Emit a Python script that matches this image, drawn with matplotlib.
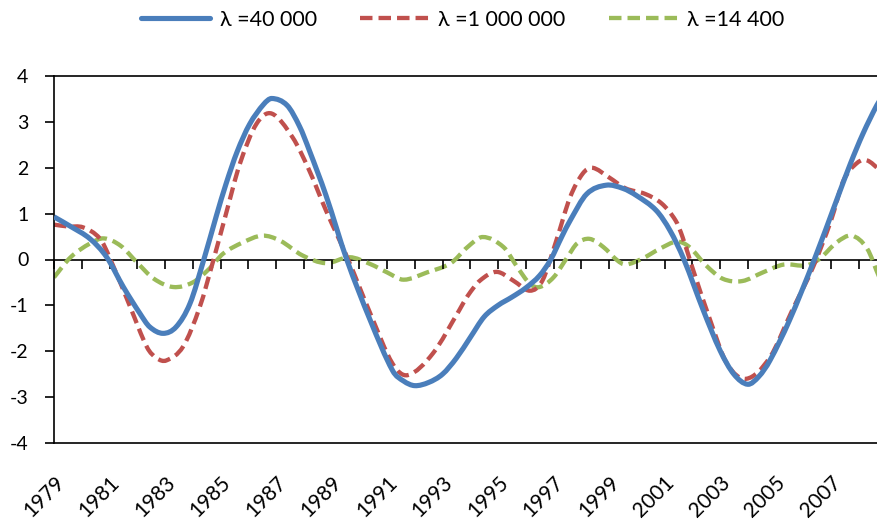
import numpy as np
import matplotlib
matplotlib.use('Agg')
import matplotlib.pyplot as plt
import matplotlib.transforms as mtransforms
from matplotlib.path import Path
from matplotlib.patches import PathPatch
from matplotlib.lines import Line2D

plt.rcParams['font.family'] = ['Lato', 'DejaVu Sans']

# values (year, cycle component)
t_40k = [1979.0, 1979.6, 1980.3, 1980.9, 1981.5, 1982.1, 1982.45, 1982.93, 1983.4, 1983.9,
         1984.4, 1984.85, 1985.2, 1985.6, 1986.05, 1986.55, 1986.85, 1987.4, 1987.85, 1988.2,
         1988.8, 1989.55, 1990.4, 1991.2, 1991.6, 1992.0, 1992.5, 1993.0, 1993.5, 1994.0,
         1994.5, 1995.0, 1995.5, 1996.0, 1996.5, 1996.9, 1997.3, 1997.6, 1998.2, 1998.9,
         1999.5, 2000.0, 2000.7, 2001.2, 2001.7, 2002.4, 2003.0, 2003.5, 2004.0, 2004.4,
         2004.8, 2005.5, 2006.4, 2007.2, 2007.7, 2008.15, 2008.65, 2008.9]
v_40k = [0.93, 0.72, 0.45, 0.05, -0.6, -1.18, -1.47, -1.61, -1.47, -0.96,
         0.0, 0.95, 1.65, 2.35, 2.95, 3.38, 3.51, 3.36, 2.9, 2.38,
         1.4, 0.0, -1.33, -2.42, -2.65, -2.75, -2.68, -2.5, -2.15, -1.7,
         -1.25, -1.0, -0.82, -0.62, -0.35, 0.0, 0.5, 0.85, 1.43, 1.62,
         1.55, 1.39, 1.07, 0.63, 0.0, -1.11, -1.98, -2.5, -2.72, -2.55,
         -2.2, -1.33, 0.0, 1.29, 2.09, 2.74, 3.36, 3.6]

t_1m = [1979.0, 1979.5, 1980.05, 1980.65, 1981.0, 1981.75, 1982.35, 1982.7, 1983.05, 1983.65,
        1984.25, 1984.75, 1985.2, 1985.7, 1986.3, 1986.85, 1987.6, 1988.2, 1988.8, 1989.6,
        1990.4, 1991.2, 1991.75, 1992.65, 1993.6, 1993.9, 1994.35, 1994.95, 1995.55, 1996.15,
        1996.6, 1997.1, 1997.6, 1998.05, 1998.4, 1999.0, 1999.6, 2000.3, 2000.9, 2001.4,
        2001.65, 2002.0, 2002.65, 2003.25, 2003.95, 2004.8, 2005.6, 2006.35, 2007.0, 2007.45,
        2007.95, 2008.3, 2008.75, 2008.9]
v_1m = [0.76, 0.72, 0.7, 0.46, 0.05, -1.04, -1.91, -2.15, -2.2, -1.9,
        -1.04, 0.0, 1.0, 2.09, 2.96, 3.18, 2.66, 1.94, 1.07, 0.0,
        -1.18, -2.27, -2.52, -2.05, -1.11, -0.8, -0.46, -0.27, -0.46, -0.68,
        -0.46, 0.41, 1.36, 1.87, 2.0, 1.79, 1.55, 1.43, 1.22, 0.85,
        0.49, -0.17, -1.33, -2.27, -2.6, -2.13, -1.11, -0.17, 0.85, 1.72,
        2.11, 2.16, 1.95, 1.85]

t_14k = [1979.0, 1979.6, 1980.3, 1980.8, 1981.4, 1982.0, 1982.6, 1983.3, 1984.0, 1984.6,
         1985.1, 1985.8, 1986.5, 1987.15, 1987.95, 1988.8, 1989.65, 1990.4, 1991.0, 1991.6,
         1992.45, 1993.3, 1993.9, 1994.45, 1995.2, 1995.7, 1996.15, 1996.5, 1997.0, 1997.5,
         1997.85, 1998.3, 1998.8, 1999.3, 1999.6, 2000.2, 2000.85, 2001.45, 2001.9, 2002.5,
         2003.1, 2003.8, 2004.55, 2005.3, 2006.1, 2006.6, 2007.2, 2007.75, 2008.3, 2008.75,
         2008.9]
v_14k = [-0.39, 0.05, 0.35, 0.46, 0.3, -0.07, -0.42, -0.6, -0.5, -0.2,
         0.13, 0.37, 0.52, 0.41, 0.09, -0.08, 0.05, -0.1, -0.28, -0.44,
         -0.28, -0.08, 0.27, 0.49, 0.27, -0.17, -0.53, -0.6, -0.39, 0.05,
         0.35, 0.45, 0.27, -0.02, -0.11, 0.02, 0.24, 0.39, 0.27, -0.13,
         -0.42, -0.47, -0.28, -0.11, -0.13, 0.02, 0.37, 0.52, 0.24, -0.4,
         -0.55]

years = list(range(1979, 2009))
labels = ['\u03bb =40 000', '\u03bb =1 000 000', '\u03bb =14 400']
colors = ['#4A7EBB', '#C0504D', '#9BBB59']


def smooth_path(t, v):
    # smoothed line through the points (cubic Hermite pieces, slopes from neighbours)
    t = np.asarray(t, float)
    v = np.asarray(v, float)
    n = len(t)
    m = np.empty(n)
    m[1:-1] = (v[2:] - v[:-2]) / (t[2:] - t[:-2])
    m[0] = (v[1] - v[0]) / (t[1] - t[0])
    m[-1] = (v[-1] - v[-2]) / (t[-1] - t[-2])
    verts = [(t[0], v[0])]
    codes = [Path.MOVETO]
    for i in range(n - 1):
        h = t[i + 1] - t[i]
        verts += [(t[i] + h / 3, v[i] + m[i] * h / 3),
                  (t[i + 1] - h / 3, v[i + 1] - m[i + 1] * h / 3),
                  (t[i + 1], v[i + 1])]
        codes += [Path.CURVE4] * 3
    return Path(verts, codes)


fig = plt.figure(figsize=(8.78, 5.22), dpi=100)
ax = fig.add_axes([54 / 878, 79 / 522, 832.5 / 878, 367 / 522])
ax.set_xlim(1979, 2009)
ax.set_ylim(-4, 4)

styles = [dict(linestyle='-', linewidth=3.7),
          dict(linestyle=(0, (2.9, 1.4)), linewidth=3.1),
          dict(linestyle=(0, (2.9, 1.4)), linewidth=3.1)]

handles = []
series = [(t_40k, v_40k), (t_1m, v_1m), (t_14k, v_14k)]
for (t, v), c, st, lab, z in zip(series, colors, styles, labels, [3, 2, 1]):
    patch = PathPatch(smooth_path(t, v), fill=False, edgecolor=c, capstyle='butt',
                      joinstyle='round', zorder=z, **st)
    ax.add_patch(patch)
    handles.append(Line2D([], [], color=c, solid_capstyle='round', dash_capstyle='butt', **st))

# category axis crossing at zero with ticks
ax.spines['bottom'].set_position(('data', 0))
ax.spines['bottom'].set_linewidth(1.2)
ax.spines['bottom'].set_zorder(0.5)
ax.set_xticks(years)
ax.tick_params(axis='x', direction='out', length=6.5, width=1.2, labelbottom=False)

ax.spines['left'].set_linewidth(1.2)
ax.spines['top'].set_linewidth(1.2)
ax.spines['right'].set_visible(False)
ax.set_yticks(range(-4, 5))
ax.set_yticklabels([str(i) for i in range(-4, 5)])
ax.tick_params(axis='y', direction='out', length=6.5, width=1.2, pad=12, labelsize=14)

# labels sit at the bottom of the plot area
sec = ax.secondary_xaxis(0.0)
sec.spines['bottom'].set_linewidth(1.2)
sec.set_xticks(years[::2])
sec.set_xticklabels([str(y) for y in years[::2]])
sec.tick_params(length=0, pad=26, labelsize=15)
shift = mtransforms.ScaledTranslation(5 / 72, 0, fig.dpi_scale_trans)
for lbl in sec.get_xticklabels():
    lbl.set_rotation(45)
    lbl.set_ha('right')
    lbl.set_va('center')
    lbl.set_rotation_mode('anchor')
    lbl.set_transform(lbl.get_transform() + shift)

fig.legend(handles, labels, loc='center', bbox_to_anchor=(0.527, 0.962), ncol=3,
           frameon=False, fontsize=15.5, handlelength=3.2, handletextpad=0.45,
           columnspacing=2.0)

fig.savefig('out.png', dpi=100)
